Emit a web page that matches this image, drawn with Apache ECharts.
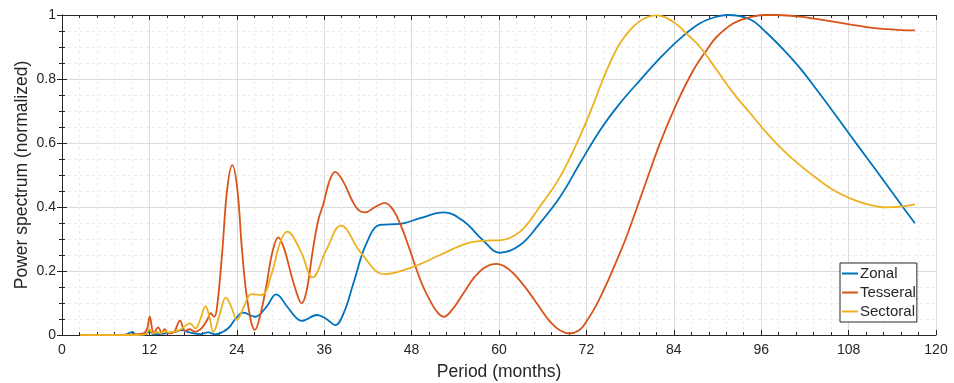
<!DOCTYPE html>
<html>
<head>
<meta charset="utf-8">
<style>html,body{margin:0;padding:0;background:#fff}#c{width:954px;height:383px}</style>
<script src="https://cdn.jsdelivr.net/npm/echarts@6/dist/echarts.min.js"></script>
</head>
<body>
<div id="c"></div>
<script>
var xTicks = [0, 12, 24, 36, 48, 60, 72, 84, 96, 108, 120];
var yTicks = [0, 0.2, 0.4, 0.6, 0.8, 1];
var seriesNames = ['Zonal', 'Tesseral', 'Sectoral'];

var zonalX = [2.5,8.5,9.7,10.1,11.5,12.0,12.5,14.0,15.5,16.5,17.5,19.0,20.1,21.0,22.1,23.0,23.8,24.9,26.5,28.1,29.4,30.9,32.1,32.9,35.0,36.3,37.5,38.7,40.0,41.8,43.7,46.4,49.2,52.4,55.1,57.8,60.1,62.9,65.6,68.4,71.1,73.9,76.6,79.4,82.1,84.9,87.6,89.9,91.4,94.5,96.8,99.0,101.3,103.6,105.9,108.2,110.5,112.8,115.1,117.1];
var zonalY = [0,0,0.01,0.001,0.002,0.012,0.002,0.004,0.01,0.015,0.008,0.003,0.008,0.002,0.01,0.025,0.05,0.07,0.057,0.089,0.127,0.089,0.055,0.044,0.0625,0.05,0.031,0.07,0.161,0.286,0.344,0.347,0.365,0.383,0.356,0.296,0.257,0.281,0.349,0.432,0.536,0.641,0.724,0.797,0.865,0.927,0.974,0.995,1.0,0.986,0.943,0.893,0.835,0.767,0.697,0.625,0.554,0.483,0.411,0.349];

var tessX = [2.5,6,10,11.2,11.7,12.05,12.6,13.2,13.7,14.1,14.6,15.4,16.2,16.9,17.5,18.3,19.2,20.0,20.4,20.9,21.3,22.0,22.7,23.4,24.1,24.7,25.5,26.5,27.3,28.1,28.9,29.7,30.5,31.3,32.1,32.9,33.6,34.4,35.2,35.9,36.7,37.5,38.6,39.8,40.7,41.6,43.0,44.3,45.5,46.6,47.7,48.7,49.6,50.5,51.4,52.4,53.6,55.1,56.6,58.1,59.6,61.2,62.9,64.7,66.0,67.0,68.4,69.7,71.0,72.0,73.4,74.8,76.2,77.5,79.8,82.1,84.4,86.7,88.5,89.9,92.2,94.5,96.5,98.1,101.3,105.9,110.5,115.1,117.1];
var tessY = [0,0,0.002,0.005,0.02,0.057,0.006,0.024,0.007,0.018,0.005,0.01,0.045,0.013,0.018,0.01,0.022,0.05,0.068,0.057,0.09,0.26,0.46,0.531,0.45,0.27,0.1,0.016,0.07,0.16,0.26,0.305,0.27,0.203,0.14,0.099,0.14,0.26,0.36,0.41,0.48,0.51,0.48,0.422,0.39,0.383,0.4,0.413,0.39,0.338,0.27,0.203,0.15,0.109,0.075,0.057,0.08,0.13,0.18,0.212,0.222,0.208,0.169,0.115,0.072,0.042,0.014,0.005,0.015,0.042,0.095,0.161,0.235,0.307,0.453,0.599,0.724,0.828,0.89,0.932,0.974,0.993,1.0,1.0,0.995,0.979,0.962,0.953,0.952];

var sectX = [2.5,10,11.5,12.0,12.5,13.0,13.5,14.1,14.7,15.3,16.2,17.0,17.6,18.3,19.0,19.7,20.2,20.8,21.6,22.5,23.3,24.0,25.0,26.0,27.4,28.8,29.9,30.9,32.7,34.4,36.3,38.3,41.1,44.3,48.2,51.9,55.6,58.3,60.1,62.9,65.6,68.4,71.1,73.0,74.8,76.6,78.4,80.0,81.6,83.9,86.2,87.6,89.9,92.2,94.5,96.8,99.0,101.3,103.6,105.9,108.2,110.5,113.2,115.1,117.1];
var sectY = [0,0,0.003,0.018,0.004,0.01,0.006,0.013,0.008,0.01,0.016,0.03,0.036,0.02,0.05,0.09,0.06,0.01,0.06,0.117,0.085,0.047,0.09,0.128,0.125,0.193,0.286,0.323,0.266,0.18,0.266,0.342,0.255,0.19,0.213,0.25,0.286,0.295,0.296,0.323,0.401,0.495,0.62,0.724,0.828,0.911,0.963,0.99,0.999,0.979,0.932,0.9,0.828,0.755,0.693,0.63,0.578,0.531,0.49,0.453,0.427,0.409,0.399,0.401,0.408];

function pairs(xs, ys) { return xs.map(function (x, i) { return [x, ys[i]]; }); }

var axisColor = '#262626';
var font = 'Liberation Sans, Arial, Helvetica, sans-serif';

function xAx(pos, show) {
  return {
    type: 'value', position: pos, min: xTicks[0], max: xTicks[xTicks.length - 1], interval: 12,
    name: show ? 'Period (months)' : '', nameLocation: 'middle', nameGap: 28, nameMoveOverlap: false,
    nameTextStyle: { fontFamily: font, fontSize: 17.5, color: axisColor },
    axisLine: { show: true, onZero: false, lineStyle: { color: axisColor, width: 1 } },
    axisTick: { show: true, inside: true, length: 5, lineStyle: { color: axisColor } },
    minorTick: { show: true, splitNumber: 5, length: 3, lineStyle: { color: axisColor } },
    axisLabel: { show: show, fontFamily: font, fontSize: 14, color: axisColor, margin: 8 },
    splitLine: { show: show, lineStyle: { color: '#dcdcdc', width: 1 } },
    minorSplitLine: { show: show, lineStyle: { color: '#ececec', width: 1, type: [3, 3] } }
  };
}
function yAx(pos, show) {
  return {
    type: 'value', position: pos, min: yTicks[0], max: yTicks[yTicks.length - 1], interval: 0.2,
    name: show ? 'Power spectrum (normalized)' : '', nameLocation: 'middle', nameGap: 31, nameMoveOverlap: false,
    nameTextStyle: { fontFamily: font, fontSize: 17.5, color: axisColor },
    axisLine: { show: true, lineStyle: { color: axisColor, width: 1 } },
    axisTick: { show: true, inside: true, length: 5, lineStyle: { color: axisColor } },
    minorTick: { show: true, splitNumber: 4, length: 3, lineStyle: { color: axisColor } },
    axisLabel: { show: show, fontFamily: font, fontSize: 14, color: axisColor, margin: 6,
      formatter: function (v) { return String(Math.round(v * 10) / 10); } },
    splitLine: { show: show, lineStyle: { color: '#dcdcdc', width: 1 } },
    minorSplitLine: { show: show, lineStyle: { color: '#ececec', width: 1, type: [3, 3] } }
  };
}

var colors = ['#0072BD', '#D95319', '#EDB120'];
var datas = [pairs(zonalX, zonalY), pairs(tessX, tessY), pairs(sectX, sectY)];

var chart = echarts.init(document.getElementById('c'), null, { renderer: 'canvas' });
chart.setOption({
  animation: false,
  grid: { left: 62, right: 18, top: 15, bottom: 48, containLabel: false, outerBoundsMode: 'none' },
  xAxis: [xAx('bottom', true), xAx('top', false)],
  yAxis: [yAx('left', true), yAx('right', false)],
  legend: {
    orient: 'vertical', left: 840, top: 263,
    data: seriesNames,
    icon: 'rect', itemWidth: 16, itemHeight: 2, itemGap: 4,
    padding: [3, 1, 3, 2],
    borderColor: axisColor, borderWidth: 1, backgroundColor: '#fff',
    textStyle: { fontFamily: font, fontSize: 15, color: axisColor, lineHeight: 15, padding: [0, 0, 0, -3] }
  },
  series: seriesNames.map(function (n, i) {
    return {
      name: n, type: 'line', data: datas[i], smooth: 0.4, symbol: 'none',
      xAxisIndex: 0, yAxisIndex: 0, clip: true,
      itemStyle: { color: colors[i] },
      lineStyle: { color: colors[i], width: 1.8 }
    };
  })
});
</script>
</body>
</html>
